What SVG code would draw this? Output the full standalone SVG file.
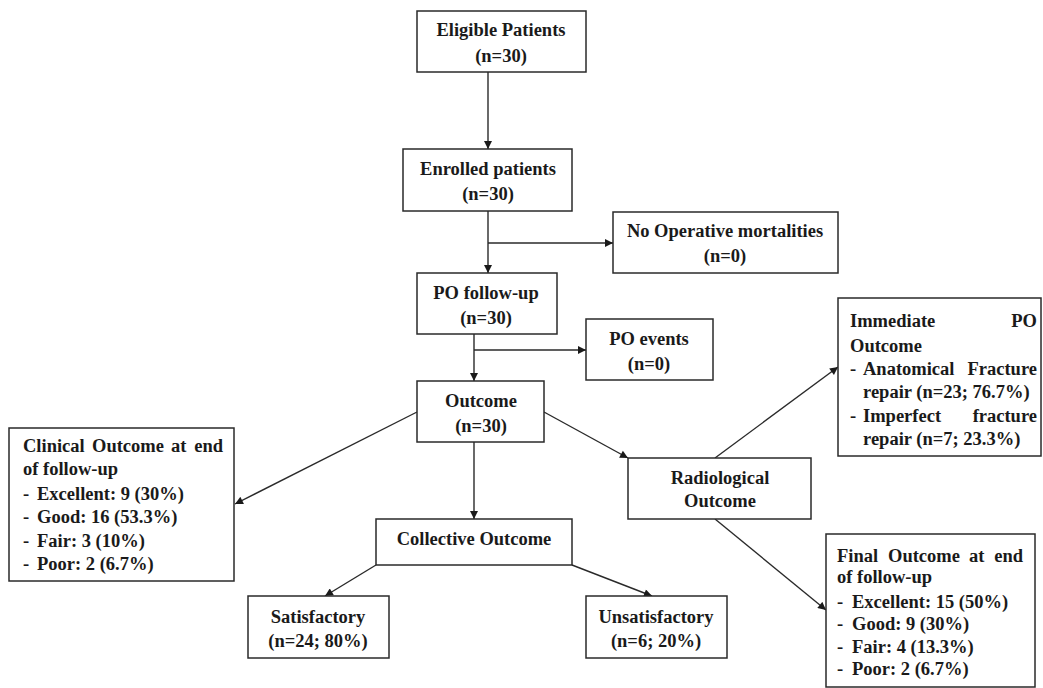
<svg xmlns="http://www.w3.org/2000/svg" width="1043" height="688" viewBox="0 0 1043 688">
<defs>
<style>
.box{fill:#fff;stroke:#2a2a2a;stroke-width:1.5}
text{font-family:"Liberation Serif","Times New Roman",serif;font-weight:bold;font-size:18.5px;fill:#1a1a1a}
.c{text-anchor:middle}
.e{text-anchor:end}
.ln{stroke:#2a2a2a;stroke-width:1.4;fill:none}
.ar{marker-end:url(#ah)}
</style>
<marker id="ah" viewBox="0 0 10 10" refX="10" refY="5" markerWidth="9" markerHeight="8" markerUnits="userSpaceOnUse" orient="auto">
<path d="M0,0 L10,5 L0,10 z" fill="#1a1a1a"/>
</marker>
</defs>
<rect width="1043" height="688" fill="#fff"/>
<g id="connectors">
<line class="ln ar" x1="488" y1="72" x2="488" y2="149"/>
<line class="ln ar" x1="488" y1="211" x2="488" y2="273"/>
<line class="ln ar" x1="488" y1="243" x2="613" y2="243"/>
<line class="ln ar" x1="474" y1="334" x2="474" y2="381"/>
<line class="ln ar" x1="474" y1="350" x2="586" y2="350"/>
<line class="ln ar" x1="417" y1="412" x2="235" y2="504"/>
<line class="ln ar" x1="474" y1="442" x2="474" y2="519"/>
<line class="ln ar" x1="544" y1="412" x2="628" y2="458"/>
<line class="ln ar" x1="715" y1="458" x2="838" y2="367"/>
<line class="ln ar" x1="715" y1="519" x2="826" y2="610"/>
<line class="ln ar" x1="376" y1="565" x2="325" y2="596"/>
<line class="ln ar" x1="572" y1="565" x2="652" y2="596"/>
</g>
<g id="eligible">
<rect class="box" x="417" y="11" width="169" height="61"/>
<text class="c" x="501" y="36">Eligible Patients</text>
<text class="c" x="501" y="62">(n=30)</text>
</g>
<g id="enrolled">
<rect class="box" x="403" y="149" width="169" height="62"/>
<text class="c" x="488" y="175">Enrolled patients</text>
<text class="c" x="488" y="200">(n=30)</text>
</g>
<g id="mortalities">
<rect class="box" x="613" y="212" width="225" height="61"/>
<text class="c" x="725" y="237">No Operative mortalities</text>
<text class="c" x="725" y="262">(n=0)</text>
</g>
<g id="followup">
<rect class="box" x="417" y="273" width="140" height="61"/>
<text class="c" x="486" y="299">PO follow-up</text>
<text class="c" x="486" y="324">(n=30)</text>
</g>
<g id="events">
<rect class="box" x="586" y="319" width="127" height="61"/>
<text class="c" x="649" y="345">PO events</text>
<text class="c" x="649" y="370">(n=0)</text>
</g>
<g id="outcome">
<rect class="box" x="417" y="381" width="127" height="61"/>
<text class="c" x="481" y="407">Outcome</text>
<text class="c" x="481" y="432">(n=30)</text>
</g>
<g id="clinical">
<rect class="box" x="9" y="428" width="225" height="153"/>
<text y="452"><tspan x="23">Clinical</tspan><tspan x="92">Outcome</tspan><tspan x="171">at</tspan><tspan x="223" class="e">end</tspan></text>
<text x="23" y="475">of follow-up</text>
<text y="500"><tspan x="23">-</tspan><tspan x="37">Excellent: 9 (30%)</tspan></text>
<text y="523"><tspan x="23">-</tspan><tspan x="37">Good: 16 (53.3%)</tspan></text>
<text y="547"><tspan x="23">-</tspan><tspan x="37">Fair: 3 (10%)</tspan></text>
<text y="570"><tspan x="23">-</tspan><tspan x="37">Poor: 2 (6.7%)</tspan></text>
</g>
<g id="collective">
<rect class="box" x="376" y="519" width="196" height="46"/>
<text class="c" x="474" y="545">Collective Outcome</text>
</g>
<g id="satisfactory">
<rect class="box" x="248" y="596" width="141" height="62"/>
<text class="c" x="318" y="623">Satisfactory</text>
<text class="c" x="318" y="647">(n=24; 80%)</text>
</g>
<g id="unsatisfactory">
<rect class="box" x="586" y="596" width="141" height="62"/>
<text class="c" x="656" y="623">Unsatisfactory</text>
<text class="c" x="656" y="647">(n=6; 20%)</text>
</g>
<g id="radiological">
<rect class="box" x="628" y="458" width="183" height="61"/>
<text class="c" x="720" y="484">Radiological</text>
<text class="c" x="720" y="507">Outcome</text>
</g>
<g id="immediate">
<rect class="box" x="838" y="298" width="203" height="158"/>
<text y="327"><tspan x="850">Immediate</tspan><tspan x="1037" class="e">PO</tspan></text>
<text x="850" y="352">Outcome</text>
<text y="375"><tspan x="850">-</tspan><tspan x="863">Anatomical</tspan><tspan x="1037" class="e">Fracture</tspan></text>
<text x="863" y="398">repair (n=23; 76.7%)</text>
<text y="422"><tspan x="850">-</tspan><tspan x="863">Imperfect</tspan><tspan x="1037" class="e">fracture</tspan></text>
<text x="863" y="445">repair (n=7; 23.3%)</text>
</g>
<g id="final">
<rect class="box" x="826" y="534" width="209" height="153"/>
<text y="562"><tspan x="837">Final</tspan><tspan x="888">Outcome</tspan><tspan x="969">at</tspan><tspan x="1023" class="e">end</tspan></text>
<text x="837" y="583">of follow-up</text>
<text y="608"><tspan x="837">-</tspan><tspan x="852">Excellent: 15 (50%)</tspan></text>
<text y="630"><tspan x="837">-</tspan><tspan x="852">Good: 9 (30%)</tspan></text>
<text y="653"><tspan x="837">-</tspan><tspan x="852">Fair: 4 (13.3%)</tspan></text>
<text y="675"><tspan x="837">-</tspan><tspan x="852">Poor: 2 (6.7%)</tspan></text>
</g>
</svg>
